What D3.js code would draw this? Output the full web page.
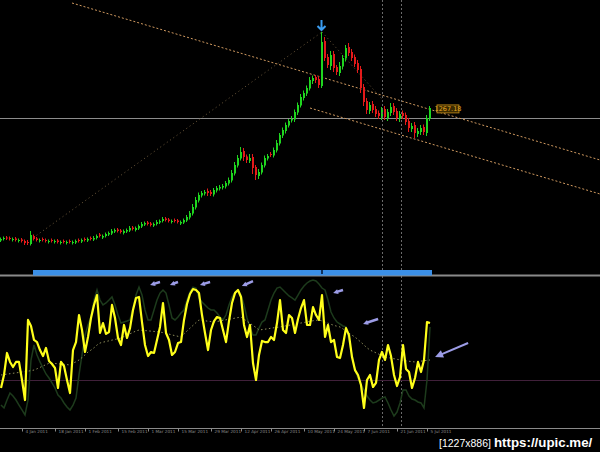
<!DOCTYPE html>
<html><head><meta charset="utf-8">
<script src="https://cdn.jsdelivr.net/npm/d3@7"></script>
<style>html,body{margin:0;padding:0;background:#000;overflow:hidden}</style>
</head><body>
<svg id="c" width="600" height="452"></svg>
<script>
// ---------- DATA ----------
const openP = [1022,1025,1028,1027,1023,1026,1021,1024,1021,1019,1015,1031,
1026,1021,1025,1023,1019,1023,1019,1022,1017,1021,1017,1021,
1017,1018,1023,1020,1025,1022,1027,1024,1027,1034,1028,1031,
1034,1036,1040,1044,1042,1037,1040,1042,1048,1043,1046,1050,
1054,1058,1056,1052,1055,1058,1061,1066,1064,1059,1063,1062,
1056,1058,1062,1068,1076,1088,1102,1112,1116,1121,1119,1114,
1122,1126,1128,1130,1136,1142,1156,1172,1186,1201,1190,1181,
1189,1169,1151,1158,1172,1186,1195,1192,1202,1216,1232,1241,
1252,1262,1264,1278,1292,1307,1316,1326,1341,1349,1345,1331,
1421,1389,1371,1395,1369,1357,1370,1386,1409,1399,1389,1377,
1365,1329,1301,1281,1295,1285,1277,1269,1285,1267,1277,1291,
1281,1265,1277,1273,1261,1245,1253,1235,1239,1249,1237,1265];
const closeP = [1025,1027,1026,1025,1025,1023,1023,1021,1017,1017,1033,1025,
1023,1023,1023,1021,1021,1021,1021,1019,1019,1019,1019,1019,
1019,1021,1021,1023,1023,1025,1025,1027,1031,1031,1031,1035,
1037,1041,1043,1041,1039,1041,1043,1047,1045,1047,1051,1055,
1057,1055,1053,1055,1059,1061,1065,1063,1061,1061,1061,1059,
1059,1063,1069,1077,1089,1103,1113,1117,1119,1117,1115,1123,
1127,1129,1131,1137,1143,1157,1173,1187,1199,1189,1183,1187,
1167,1153,1159,1173,1187,1191,1193,1203,1217,1233,1243,1253,
1261,1265,1279,1293,1309,1317,1327,1343,1347,1343,1333,1419,
1387,1373,1393,1367,1359,1371,1387,1407,1397,1387,1375,1363,
1327,1299,1283,1293,1283,1275,1271,1283,1269,1279,1289,1279,
1267,1275,1271,1259,1247,1251,1237,1241,1247,1239,1267,1287];
const wickUp = [3,3,3,3,3,3,3,3,3,4,8,3,
3,3,3,3,3,3,3,3,3,3,3,3,
3,3,3,3,3,3,3,4,3,3,3,3,
3,4,3,3,3,3,3,4,3,3,3,4,
3,3,3,3,4,3,4,3,3,3,3,3,
3,3,4,4,6,6,5,4,4,5,4,4,
4,4,4,4,5,6,6,6,10,6,4,8,
6,4,6,5,5,4,4,5,6,4,5,5,
4,6,5,5,6,5,5,6,5,4,6,20,
8,6,8,6,4,8,6,6,8,6,5,6,
6,6,6,6,6,6,5,6,6,6,8,6,
6,6,5,5,6,6,6,6,6,5,6,4];
const wickDn = [3,3,3,3,3,3,3,3,4,4,3,3,
3,3,3,3,3,3,3,3,3,3,3,3,
3,3,3,3,3,3,3,3,3,3,3,3,
3,3,3,3,3,3,3,3,3,3,3,3,
3,3,3,3,3,3,3,3,3,3,3,3,
3,3,3,4,4,4,4,4,4,6,4,4,
4,4,4,4,4,4,4,4,4,8,6,4,
12,10,6,4,4,4,4,4,4,4,5,5,
4,4,5,5,4,5,5,4,6,6,6,4,
6,6,8,8,6,6,6,6,6,6,6,6,
10,8,8,6,6,6,6,6,6,6,6,6,
6,6,6,6,8,6,10,6,6,6,6,4];

const oscMain = [24.3,33.6,49.3,42.9,39.3,42.9,42.9,30,15.7,72.9,68.6,58.6,
57.1,51.4,47.1,52.9,43.6,41.4,38.6,24.3,42.9,40,30,20.7,
51.4,57.1,76.4,65.7,50,60.7,74.3,83.6,90.7,63.6,70.7,62.9,
64.3,83.6,74.3,60,55,69.3,60,67.1,80,88.6,89.3,71.4,
55,47.1,50,49.3,58.6,67.9,85,63.6,58.6,47.9,50,56.4,
57.1,72.9,84.3,91.4,95,94.3,92.1,76.4,63.6,51.4,65.7,72.1,
75,74.3,65.7,57.1,72.1,85,92.1,94.3,89.3,69.3,60.7,69.3,
42.1,30,47.9,57.9,57.1,57.1,60.7,58.6,70.7,87.1,65.7,63.6,
76.4,74.3,63.6,73.6,81.4,87.1,69.3,69.3,82.1,76.4,72.9,90.7,
60.7,69.3,57.1,58.6,46.4,45.7,55,67.1,62.1,46.4,37.1,33.6,
26.4,10,30,33.6,25,27.9,44.3,50,44.3,55,47.1,33.6,
25.7,32.1,55,37.9,35.7,24.3,31.4,42.9,35.7,44.3,71.4,70.7];
const oscSignal = [12.1,10,15.7,20.7,18.6,15.7,12.1,8.6,5,15.7,44.3,55,
47.9,42.9,38.6,34.3,31.4,27.9,24.3,19.3,17.1,13.6,10.7,8.6,
12.1,17.1,33.6,47.9,62.1,69.3,75,87.1,94.3,87.1,83.6,85,
87.1,89.3,83.6,76.4,70.7,71.4,72.1,72.9,81.4,90.7,96.4,90.7,
80,72.9,72.9,80,87.1,92.1,94.3,92.1,83.6,74.3,72.9,75,
77.9,80,87.1,92.9,96.4,95.7,88.6,85.7,83.6,81.4,80,80,
77.9,75,72.9,76.4,83.6,89.3,92.9,94.3,90.7,83.6,74.3,67.1,
62.1,62.1,67.1,71.4,72.9,80,87.1,92.1,95.7,96.4,94.3,92.1,
90,88.6,87.1,90.7,94.3,97.1,99.3,100.7,101.4,100.7,98.6,95.7,
94.3,87.1,78.6,74.3,71.4,70,68.6,67.9,58.6,47.9,37.1,31.4,
26.4,22.9,18.6,15.7,13.6,14.3,15.7,17.1,17.9,13.6,8.6,4.3,
7.1,13.6,22.9,22.9,18.6,16.4,15.7,14.3,13.6,10,30,67.9];
const oscMA = [33.6,33.9,34.2,34.5,34.8,35.1,35.4,35.7,36.0,36.3,36.7,37.1,
38,39,40,41,42,42,41.8,41.6,41.4,41.2,41,40.7,
42,43,44.3,46,48,50,51.4,53,55,56.4,57,57.5,
58,58.5,59,59.5,60,61,62,63,64,65,65.7,65.5,
65.3,65.1,64.9,64.7,64.5,64.3,63.8,63.3,62.8,62.2,61.7,61.2,
60.7,63,65,67,69,71,72.9,72.6,72.3,72,71.7,71.4,
71.8,72.2,72.6,73,73.4,73.8,74.2,74.6,75,73.5,72,70.5,
69,67.5,65.7,66,66.3,66.6,67,67.3,67.6,67.9,68.3,68.7,
69.1,69.5,69.9,70.3,70.7,71.1,71.5,71.9,72.3,72.6,72.9,72.2,
71.4,70.6,69.8,69,68.4,67.9,66.5,65,63.5,62,60.7,58.8,
57,55,53,51.4,50.4,49.4,48.4,47.4,46.4,46,45.6,45.2,
44.8,44.3,44,43.7,43.4,43.1,42.9,43.2,43.5,43.8,44,44.3];

const lastPrice = 1267.18;
const lastPriceLabel = "1267.18";
const oscLevel = 30;
const channelUpper = [[23.67, 1497], [199.67, 1183]];
const channelLower = [[103, 1287], [199.67, 1115]];
const riseLine = [[9.67, 1023], [107, 1439]];
const fallLine = [[107, 1439], [127, 1305]];
const peakBar = 107;
const markerBars = [127, 133.33];
const periodBar = [10.67, 143.67];
const oscArrows = [[49.7,97.9,53,100],[56.3,97.9,59,100],[66.3,97.9,69.7,100],
  [80.3,97.1,84,100.7],[110.7,92.1,114,94.3],[120.7,70,125.7,73.6]];
const bigArrow = [144.7, 46.4, 155.7, 56.4];
const tickBars = [7,18,28,39,49,59,70,80,90,101,111,121,132,142];
const tickLabels = ["4 Jan 2011","18 Jan 2011","1 Feb 2011","15 Feb 2011","1 Mar 2011","15 Mar 2011",
  "29 Mar 2011","12 Apr 2011","26 Apr 2011","10 May 2011","24 May 2011","7 Jun 2011","21 Jun 2011","5 Jul 2011"];
const watermarkSize = "[1227x886]";
const watermarkUrl = "https://upic.me/";

// ---------- DRAW ----------
const W = 600, H = 452;
const svg = d3.select("#c");
svg.append("rect").attr("width", W).attr("height", H).attr("fill", "#000");

const n = closeP.length;
const x = d3.scaleLinear().domain([0, n - 1]).range([1, 430]);
const y = d3.scaleLinear().domain([1000, 1500]).range([251.5, 1.5]);
const yo = d3.scaleLinear().domain([0, 100]).range([422, 282]);

const main = svg.append("g");
main.append("line").attr("x1", 0).attr("x2", W)
  .attr("y1", Math.round(y(lastPrice)) + 0.5).attr("y2", Math.round(y(lastPrice)) + 0.5)
  .attr("stroke", "#8c8c8c").attr("stroke-width", 1);

svg.selectAll(".vm").data(markerBars).join("line")
  .attr("x1", d => Math.round(x(d)) + 0.5).attr("x2", d => Math.round(x(d)) + 0.5)
  .attr("y1", 0).attr("y2", 428)
  .attr("stroke", "#6a6a6a").attr("stroke-width", 1).attr("stroke-dasharray", "2,2");

const tl = d3.line().x(d => x(d[0])).y(d => y(d[1]));
main.append("path").attr("d", tl(channelUpper)).attr("fill", "none")
  .attr("stroke", "#d09a60").attr("stroke-width", 1).attr("stroke-dasharray", "2,2");
main.append("path").attr("d", tl(channelLower)).attr("fill", "none")
  .attr("stroke", "#d09a60").attr("stroke-width", 1).attr("stroke-dasharray", "2,2");
main.append("path").attr("d", tl(riseLine)).attr("fill", "none")
  .attr("stroke", "#6e5a3c").attr("stroke-width", 1).attr("stroke-dasharray", "1,3");
main.append("path").attr("d", tl(fallLine)).attr("fill", "none")
  .attr("stroke", "#6e5a3c").attr("stroke-width", 1).attr("stroke-dasharray", "1,3");

const idx = d3.range(n);
const up = i => closeP[i] >= openP[i];
const col = i => up(i) ? "#1fd51f" : "#e41a1a";
main.selectAll(".wick").data(idx).join("rect")
  .attr("x", i => Math.round(x(i)) - 1)
  .attr("width", 1)
  .attr("y", i => y(Math.max(openP[i], closeP[i]) + wickUp[i]))
  .attr("height", i => y(Math.min(openP[i], closeP[i]) - wickDn[i]) - y(Math.max(openP[i], closeP[i]) + wickUp[i]))
  .attr("fill", col);
main.selectAll(".body").data(idx).join("rect")
  .attr("x", i => Math.round(x(i)) - 1)
  .attr("width", 2)
  .attr("y", i => y(Math.max(openP[i], closeP[i])))
  .attr("height", i => Math.max(1, y(Math.min(openP[i], closeP[i])) - y(Math.max(openP[i], closeP[i]))))
  .attr("fill", col);

{
  const px = Math.round(x(peakBar)) - 0.5;
  const py = y(Math.max(openP[peakBar], closeP[peakBar]) + wickUp[peakBar]) - 2;
  main.append("path")
    .attr("d", `M${px},${py - 10}L${px},${py}M${px - 4},${py - 4}L${px},${py}L${px + 4},${py - 4}`)
    .attr("fill", "none").attr("stroke", "#3a9cf0").attr("stroke-width", 2);
}

{
  const lx = x(n - 1) + 7, ly = y(lastPrice) - 13;
  main.append("rect").attr("x", lx).attr("y", ly).attr("width", 22).attr("height", 8)
    .attr("fill", "#3a2a00").attr("stroke", "#c89018").attr("stroke-width", 0.8);
  main.append("text").attr("x", lx + 11).attr("y", ly + 6.5).attr("text-anchor", "middle")
    .attr("font-family", "DejaVu Sans").attr("font-size", 6.5).attr("fill", "#e8a820")
    .text(lastPriceLabel);
}

// separator
svg.append("rect").attr("x", 0).attr("y", 274.5).attr("width", W).attr("height", 2).attr("fill", "#8a8a8a");
svg.append("rect").attr("x", x(periodBar[0])).attr("y", 270)
  .attr("width", x(periodBar[1]) - x(periodBar[0])).attr("height", 5.5).attr("fill", "#3b8fe6");
svg.append("rect").attr("x", Math.round(x(peakBar)) - 1).attr("y", 270).attr("width", 2).attr("height", 4).attr("fill", "#10305a");

// oscillator
const lo = svg.append("g");
lo.append("line").attr("x1", 0).attr("x2", W).attr("y1", yo(oscLevel) + 0.5).attr("y2", yo(oscLevel) + 0.5)
  .attr("stroke", "#40203a").attr("stroke-width", 1);
const ol = d3.line().x((d, i) => x(i)).y(d => yo(d));
lo.append("path").attr("d", ol(oscSignal)).attr("fill", "none")
  .attr("stroke", "#1d3b1c").attr("stroke-width", 1.5);
lo.append("path").attr("d", ol(oscMA)).attr("fill", "none")
  .attr("stroke", "#8e8e5a").attr("stroke-width", 1).attr("stroke-dasharray", "1.5,2.5");
lo.append("path").attr("d", ol(oscMain)).attr("fill", "none")
  .attr("stroke", "#ffff1a").attr("stroke-width", 2.2).attr("stroke-linejoin", "round");

function arrow(g, a, w, head) {
  const tx = x(a[0]), ty = yo(a[1]), sx = x(a[2]), sy = yo(a[3]);
  const ang = Math.atan2(ty - sy, tx - sx);
  g.append("line").attr("x1", sx).attr("y1", sy)
    .attr("x2", tx - Math.cos(ang) * head * 0.6).attr("y2", ty - Math.sin(ang) * head * 0.6)
    .attr("stroke", "#9c9ce6").attr("stroke-width", w);
  const p1 = [tx - Math.cos(ang) * head + Math.sin(ang) * head * 0.5, ty - Math.sin(ang) * head - Math.cos(ang) * head * 0.5];
  const p2 = [tx - Math.cos(ang) * head - Math.sin(ang) * head * 0.5, ty - Math.sin(ang) * head + Math.cos(ang) * head * 0.5];
  g.append("path").attr("d", `M${tx},${ty}L${p1[0]},${p1[1]}L${p2[0]},${p2[1]}Z`).attr("fill", "#9c9ce6");
}
oscArrows.forEach(a => arrow(lo, a, 2.5, 5));
arrow(lo, bigArrow, 2, 8);

// axis
svg.append("line").attr("x1", 0).attr("x2", W).attr("y1", 428.5).attr("y2", 428.5)
  .attr("stroke", "#8a8a8a").attr("stroke-width", 1);
const ax = svg.append("g").attr("transform", "translate(0,428.5)")
  .call(d3.axisBottom(x).tickValues(tickBars).tickSize(3).tickFormat((d, i) => tickLabels[i]));
ax.select(".domain").remove();
ax.selectAll("line").attr("stroke", "#8a8a8a");
ax.selectAll("text").attr("fill", "#8a8a8a").attr("font-family", "DejaVu Sans").attr("font-size", 4.2)
  .attr("text-anchor", "start").attr("dx", 3).attr("dy", -2);

// watermark
svg.append("text").attr("x", 439).attr("y", 447)
  .attr("font-family", "Liberation Sans").attr("font-size", 10.5).attr("fill", "#ffffff")
  .text(watermarkSize);
svg.append("text").attr("x", 494).attr("y", 447)
  .attr("font-family", "Liberation Sans").attr("font-weight", "bold").attr("font-size", 13.3).attr("fill", "#ffffff")
  .text(watermarkUrl);
</script>
</body></html>
